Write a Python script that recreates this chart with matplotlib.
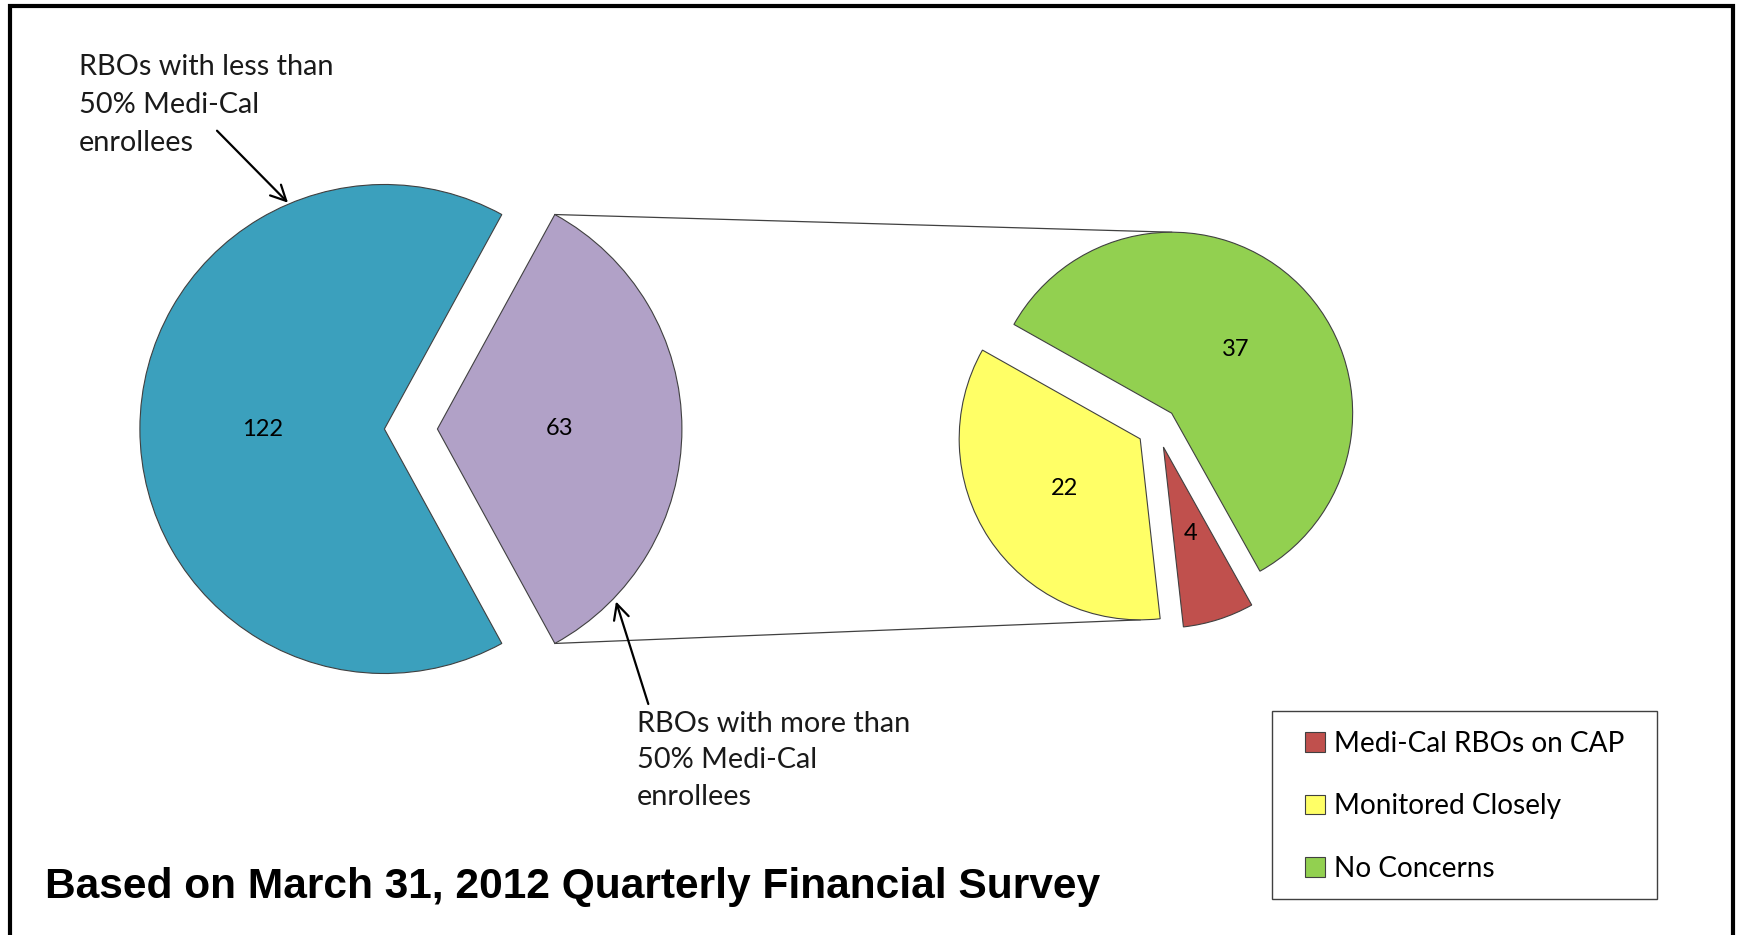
import numpy as np
import matplotlib
matplotlib.use("Agg")
import matplotlib.pyplot as plt
from matplotlib.patches import Rectangle

# ---- data ----
main_labels = ["RBOs with less than 50% Medi-Cal enrollees",
               "RBOs with more than 50% Medi-Cal enrollees"]
main_values = [122, 63]
main_colors = ["#3BA0BD", "#B1A1C7"]

sub_labels = ["Medi-Cal RBOs on CAP", "Monitored Closely", "No Concerns"]
sub_values = [4, 22, 37]
sub_colors = ["#C0504D", "#FFFF66", "#92D050"]

title_text = "Based on March 31, 2012 Quarterly Financial Survey"
note_less = ["RBOs with less than", "50% Medi-Cal", "enrollees"]
note_more = ["RBOs with more than", "50% Medi-Cal", "enrollees"]

W, H = 1737, 935
fig = plt.figure(figsize=(W / 100, H / 100), dpi=100)
ax = fig.add_axes([0, 0, 1, 1])

def Y(y):
    return H - y

EDGE = "#404040"
FONT = ["Lato", "DejaVu Sans"]

def fmt(total):
    return lambda p: f"{int(round(p * total / 100.0))}"

# main pie (explode given in data units = pixels)
mw, mt, ma = ax.pie(main_values, colors=main_colors, startangle=61.3,
                    counterclock=True, explode=[0, 53],
                    center=(384.4, Y(429)), radius=244.5,
                    wedgeprops=dict(edgecolor=EDGE, linewidth=0.8),
                    autopct=fmt(sum(main_values)), pctdistance=0.5,
                    textprops=dict(fontsize=17, family=FONT, color="black"))
for t in mt:
    t.set_text("")

# secondary pie
sw, st, sa = ax.pie(sub_values, colors=sub_colors, startangle=299.2,
                    counterclock=False, explode=[20.4, 20.4, 20.4],
                    center=(1157.2, Y(427.6)), radius=181,
                    wedgeprops=dict(edgecolor=EDGE, linewidth=0.8),
                    autopct=fmt(sum(sub_values)), pctdistance=0.5,
                    textprops=dict(fontsize=17, family=FONT, color="black"))
for t in st:
    t.set_text("")

ax.set_xlim(0, W)
ax.set_ylim(0, H)
ax.set_aspect("equal")
ax.axis("off")

# connector lines
pw = mw[1]
gw = sw[2]
yw = sw[1]
def pt(w, ang):
    cx, cy = w.center
    return cx + w.r * np.cos(np.radians(ang)), cy + w.r * np.sin(np.radians(ang))
p_top = pt(pw, pw.theta2)
p_bot = pt(pw, pw.theta1)
g_top = pt(gw, 90)
y_bot = pt(yw, 270)
ax.plot([p_top[0], g_top[0]], [p_top[1], g_top[1]], color=EDGE, lw=0.9, zorder=0)
ax.plot([p_bot[0], y_bot[0]], [p_bot[1], y_bot[1]], color=EDGE, lw=0.9, zorder=0)

# annotations
arrow = dict(arrowstyle="->,head_length=1.1,head_width=0.55", color="black",
             lw=1.6, shrinkA=0, shrinkB=0)
for i, line in enumerate(note_less):
    ax.text(78.6, Y(75.3 + i * 37.7), line, fontsize=20.8, family=FONT,
            ha="left", va="baseline", color="#1a1a1a")
ax.annotate("", xy=(288, Y(202.7)), xytext=(217, Y(130.7)), arrowprops=arrow)
for i, line in enumerate(note_more):
    ax.text(636.7, Y(731.7 + i * 36.7), line, fontsize=20.8, family=FONT,
            ha="left", va="baseline", color="#1a1a1a")
ax.annotate("", xy=(616, Y(601.5)), xytext=(648.3, Y(704)), arrowprops=arrow)

# title
ax.text(45, Y(898), title_text, fontsize=30.6, fontweight="bold",
        family=["Liberation Sans", "DejaVu Sans"],
        ha="left", va="baseline", color="black")

# legend
ax.add_patch(Rectangle((1272, Y(899.3)), 385.3, 188.6, facecolor="white",
                       edgecolor=EDGE, lw=1.0, zorder=5))
leg = ax.legend([sw[0], sw[1], sw[2]], sub_labels, loc="upper left",
                bbox_to_anchor=(1305 / W, Y(731) / H), bbox_transform=fig.transFigure,
                frameon=False, borderpad=0, borderaxespad=0,
                prop=dict(family=FONT, size=20.2), handlelength=0.7,
                handleheight=0.7, handletextpad=0.35, labelspacing=1.3)
leg.set_zorder(6)

# outer frame
ax.add_patch(Rectangle((9.5, Y(950)), 1733 - 9.5, 950 - 5.5, fill=False,
                       edgecolor="black", lw=3, zorder=10, clip_on=False))

fig.savefig("out.png", dpi=100, facecolor="white")
